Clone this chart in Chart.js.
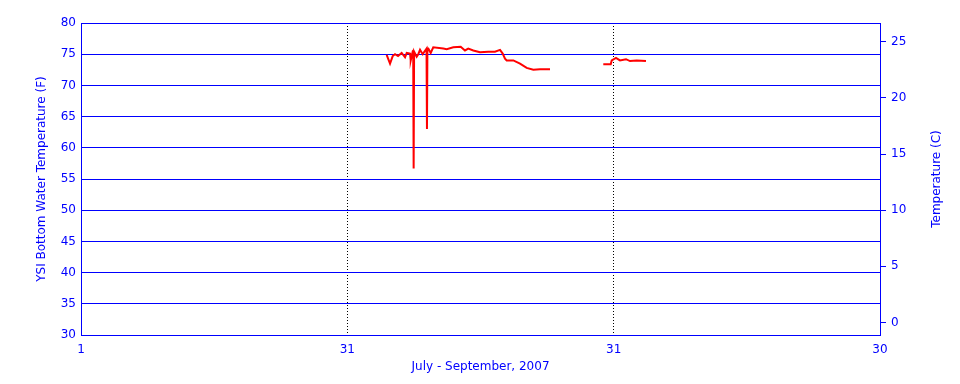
<!DOCTYPE html>
<html>
<head>
<meta charset="utf-8">
<script src="https://cdn.jsdelivr.net/npm/chart.js@4"></script>
<style>
  html, body { margin: 0; padding: 0; background: #fff; }
  #wrap { width: 960px; height: 384px; }
</style>
</head>
<body>
<div id="wrap"><canvas id="ysiChart" width="960" height="384"></canvas></div>
<script>
// days counted from July 1 (0) to Sept 30 (90)
const dayTicks = [0, 30, 60, 90];
const dayLabels = ["1", "31", "31", "30"];
const fTicks = [30, 35, 40, 45, 50, 55, 60, 65, 70, 75, 80];
const cTicks = [0, 5, 10, 15, 20, 25];

const days = [
  34.43, 34.81, 35.11, 35.37, 35.71, 36.12, 36.50, 36.69, 37.06, 37.14,
  37.36, 37.42, 37.47, 37.52, 37.62, 37.81, 37.99, 38.19, 38.49, 38.67,
  38.92, 38.97, 39.02, 39.12, 39.39, 39.68, 40.81, 41.19, 41.94, 42.77,
  43.25, 43.62, 44.19, 44.94, 45.88, 46.63, 47.20, 47.50, 47.76, 47.95,
  48.70, 49.45, 50.20, 50.95, 51.70, 52.83,
  55.8,
  58.83, 59.67, 59.78, 60.26, 60.71, 61.39, 61.84, 62.59, 63.64
];
const tempF = [
  74.9, 73.5, 74.7, 75.0, 74.7, 75.2, 74.5, 75.2, 75.1, 74.0,
  75.4, 75.3, 56.7, 75.4, 75.4, 74.6, 75.0, 75.7, 75.0, 75.4,
  75.9, 63.0, 75.9, 75.9, 75.2, 76.1, 75.9, 75.8, 76.1, 76.2,
  75.6, 75.9, 75.6, 75.3, 75.4, 75.4, 75.7, 75.1, 74.3, 74.0,
  74.0, 73.5, 72.8, 72.5, 72.6, 72.6,
  null,
  73.4, 73.4, 74.0, 74.4, 74.0, 74.2, 73.9, 74.0, 73.9
];

const BLUE = "#0000ff";
const FONT = { family: "DejaVu Sans", size: 12 };
const fToC = (f) => (f - 32) * 5 / 9;

// right axis title reads bottom-to-top, so draw it by hand
const rightTitle = {
  id: "rightTitle",
  afterDraw(chart) {
    const c = chart.ctx;
    c.save();
    c.fillStyle = BLUE;
    c.font = "12px 'DejaVu Sans'";
    c.textAlign = "center";
    c.textBaseline = "middle";
    c.translate(937, (chart.chartArea.top + chart.chartArea.bottom) / 2);
    c.rotate(-Math.PI / 2);
    c.fillText("Temperature (C)", 0, 0);
    c.restore();
  },
};

const ctx = document.getElementById("ysiChart").getContext("2d");
new Chart(ctx, {
  type: "line",
  data: {
    datasets: [
      {
        data: days.map((d, i) => ({ x: d, y: tempF[i] })),
        borderColor: "#ff0000",
        borderWidth: 2,
        pointRadius: 0,
        tension: 0,
        spanGaps: false,
      },
    ],
  },
  options: {
    responsive: false,
    animation: false,
    layout: { padding: { top: 23 } },
    plugins: { legend: { display: false }, tooltip: { enabled: false } },
    scales: {
      x: {
        type: "linear",
        min: 0,
        max: 90,
        afterBuildTicks: (s) => { s.ticks = dayTicks.map((v) => ({ value: v })); },
        afterFit: (s) => { s.height = 49; },
        ticks: {
          color: BLUE,
          font: FONT,
          padding: 8,
          maxRotation: 0,
          callback: (v, i) => dayLabels[i],
        },
        grid: {
          drawTicks: false,
          lineWidth: 1,
          color: (c) => (c.tick && (c.tick.value === 30 || c.tick.value === 60) ? "#000000" : "rgba(0,0,0,0)"),
        },
        border: { color: BLUE, width: 1, dash: [1, 2] },
        title: {
          display: true,
          text: "July - September, 2007",
          color: BLUE,
          font: FONT,
          padding: { top: 0, bottom: 10 },
        },
      },
      y: {
        position: "left",
        min: 30,
        max: 80,
        afterBuildTicks: (s) => { s.ticks = fTicks.map((v) => ({ value: v })); },
        afterFit: (s) => { s.width = 81; },
        ticks: { color: BLUE, font: FONT, padding: 5 },
        grid: { color: BLUE, lineWidth: 1, drawTicks: false },
        border: { color: BLUE, width: 1 },
        title: {
          display: true,
          text: "YSI Bottom Water Temperature (F)",
          color: BLUE,
          font: FONT,
          padding: { top: 35, bottom: 0 },
        },
      },
      y2: {
        position: "right",
        min: fToC(30),
        max: fToC(80),
        afterBuildTicks: (s) => { s.ticks = cTicks.map((v) => ({ value: v })); },
        afterFit: (s) => { s.width = 80; },
        ticks: { color: BLUE, font: FONT, padding: 5 },
        grid: { color: BLUE, lineWidth: 1, drawOnChartArea: false, drawTicks: true, tickLength: 6 },
        border: { color: BLUE, width: 1 },
      },
    },
  },
  plugins: [rightTitle],
});
</script>
</body>
</html>
